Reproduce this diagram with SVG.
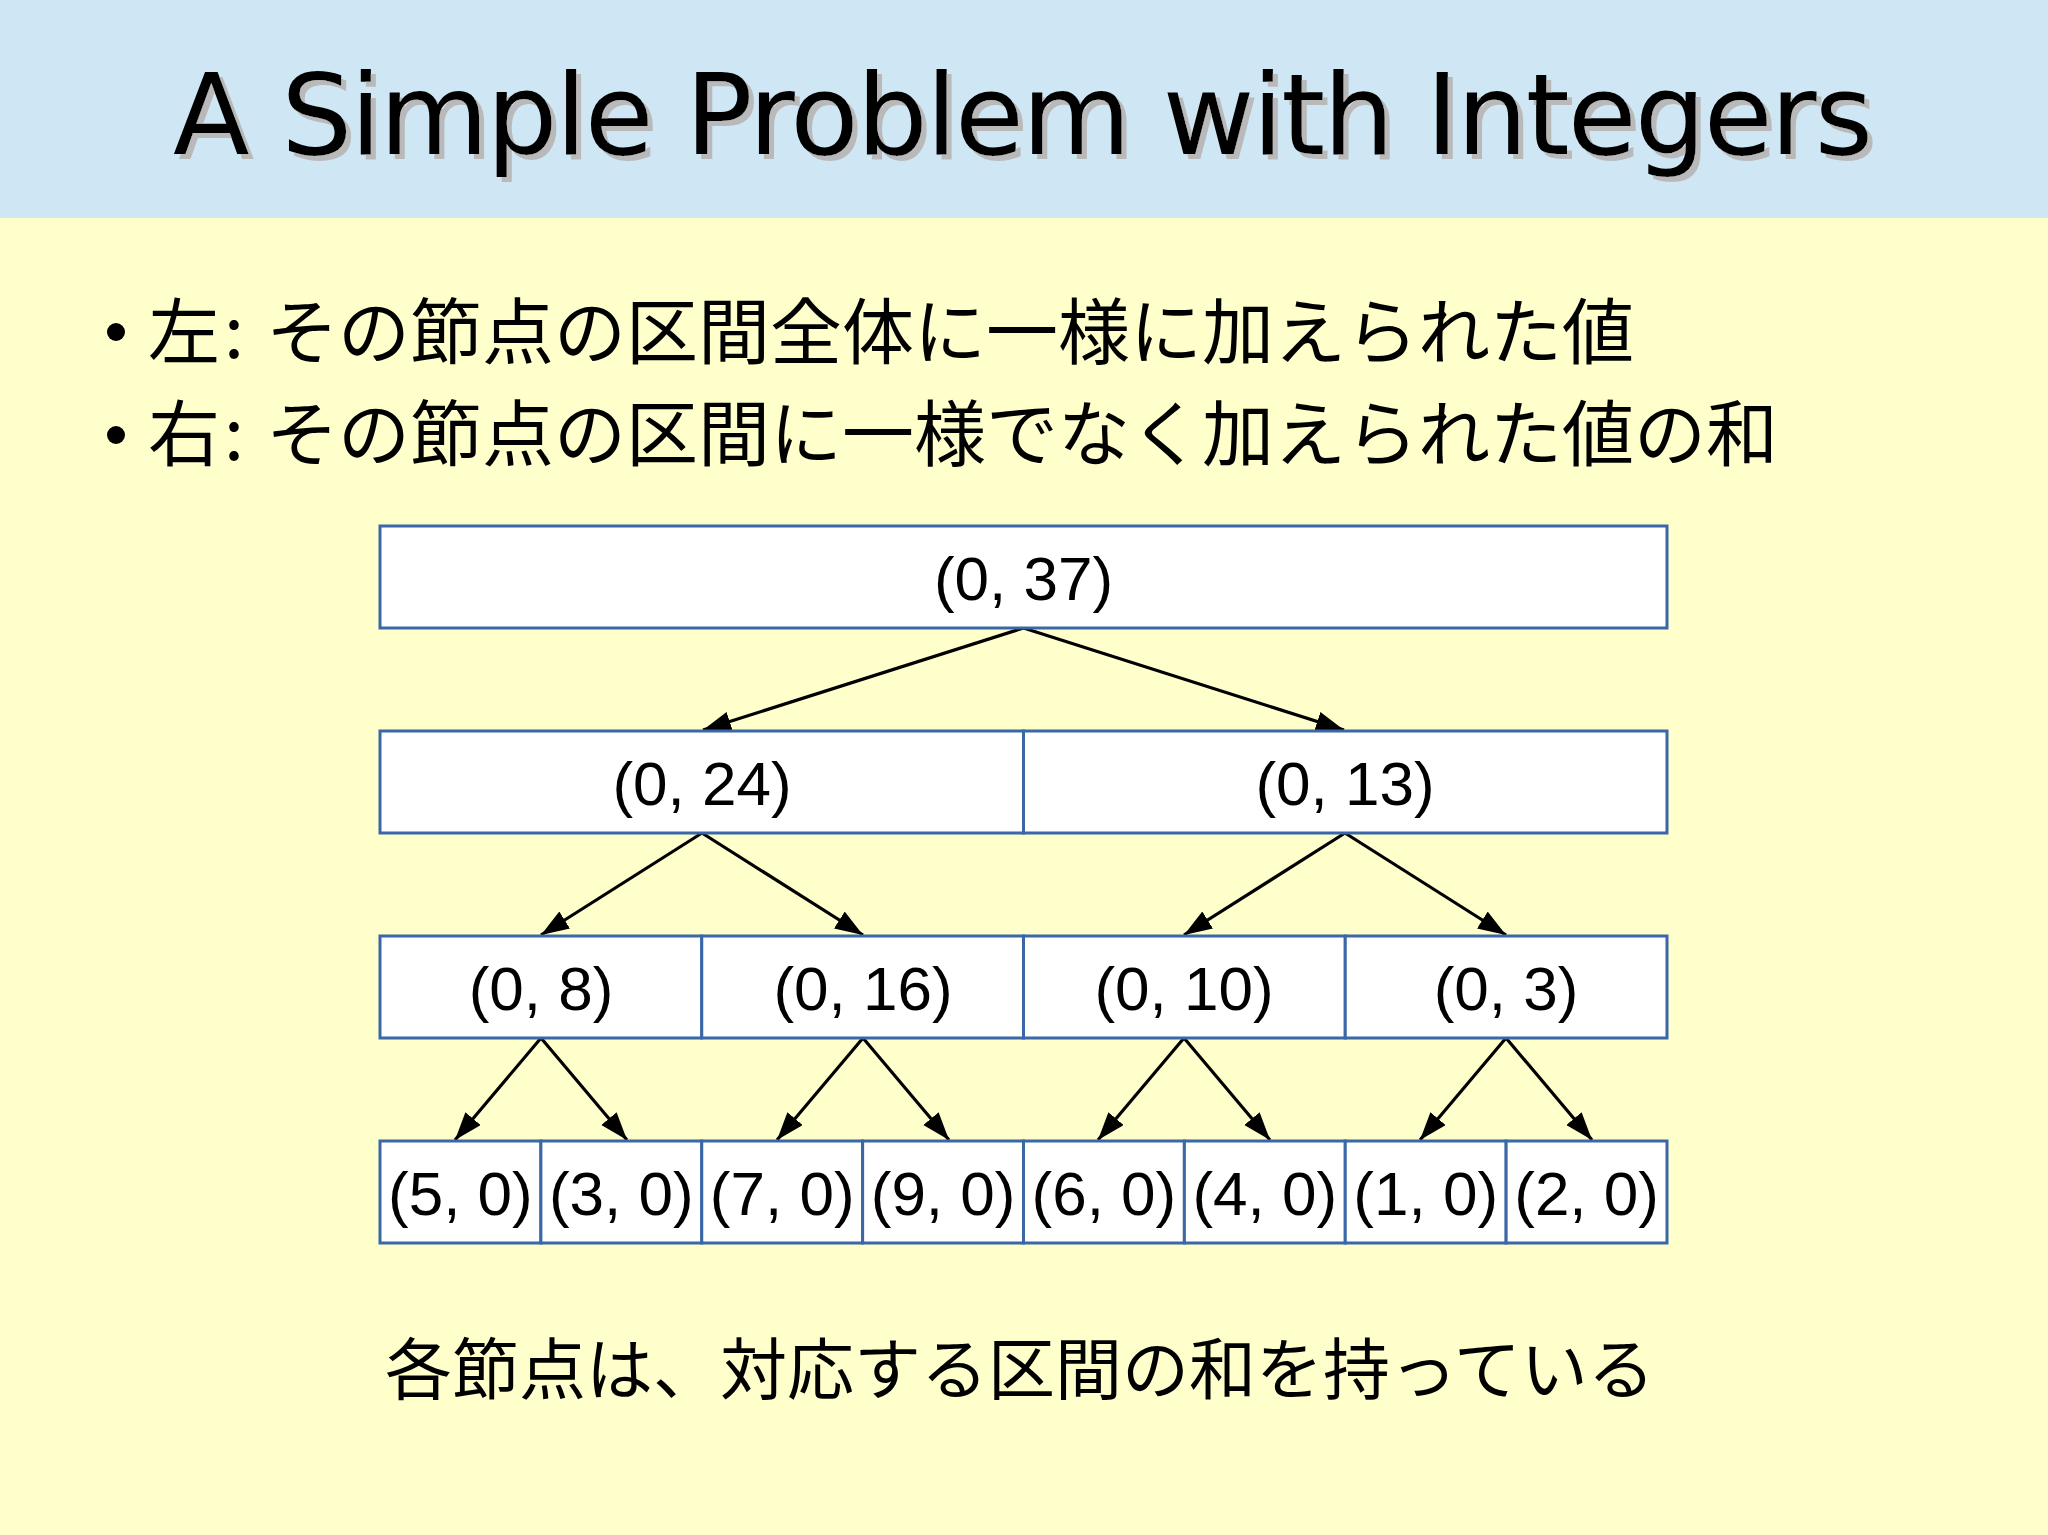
<svg xmlns="http://www.w3.org/2000/svg" width="2048" height="1535" viewBox="0 0 2048 1535">
<defs>
<style>
.box{fill:#ffffff;stroke:#3a67a8;stroke-width:3}
.lbl{font-family:"Liberation Sans",Arial,sans-serif;font-size:62px;fill:#000;text-anchor:middle}
.jp{font-family:"Noto Sans CJK JP","Noto Sans CJK SC",sans-serif;fill:#000}
.edge{stroke:#000;stroke-width:3.2;fill:none;marker-end:url(#arr)}
.title{font-family:"DejaVu Sans",sans-serif;font-size:112px}
</style>
<filter id="shadow" x="-5%" y="-20%" width="110%" height="150%">
<feDropShadow dx="5" dy="5" stdDeviation="0.6" flood-color="#b9b9b9" flood-opacity="1"/>
</filter>
<marker id="arr" markerUnits="userSpaceOnUse" markerWidth="30" markerHeight="22" refX="28" refY="10" orient="auto" viewBox="0 0 30 22">
<path d="M0,0 L28,10 L0,20 z" fill="#000"/>
</marker>
</defs>
<rect x="0" y="0" width="2048" height="1535" fill="#ffffcc"/>
<rect x="0" y="0" width="2048" height="218" fill="#cfe7f5"/>
<g id="title">
<text class="title" x="173" y="154" fill="#000" filter="url(#shadow)" textLength="1700" lengthAdjust="spacing">A Simple Problem with Integers</text>
</g>
<g id="bullets">
<circle cx="116" cy="332" r="9" fill="#000"/>
<text class="jp" font-size="72" y="358"><tspan x="148">左</tspan><tspan x="224">:</tspan><tspan x="266">その節点の区間全体に一様に加えられた値</tspan></text>
<circle cx="116" cy="435" r="9" fill="#000"/>
<text class="jp" font-size="72" y="460"><tspan x="148">右</tspan><tspan x="224">:</tspan><tspan x="266">その節点の区間に一様でなく加えられた値の和</tspan></text>
</g>
<g id="connectors">
<line class="edge" x1="1023.5" y1="628" x2="703" y2="730"/>
<line class="edge" x1="1023.5" y1="628" x2="1344" y2="730"/>
<line class="edge" x1="702" y1="833" x2="541" y2="935"/>
<line class="edge" x1="702" y1="833" x2="863" y2="935"/>
<line class="edge" x1="1345" y1="833" x2="1184" y2="935"/>
<line class="edge" x1="1345" y1="833" x2="1506" y2="935"/>
<line class="edge" x1="541" y1="1038" x2="455" y2="1140"/>
<line class="edge" x1="541" y1="1038" x2="627" y2="1140"/>
<line class="edge" x1="863" y1="1038" x2="777" y2="1140"/>
<line class="edge" x1="863" y1="1038" x2="949" y2="1140"/>
<line class="edge" x1="1184" y1="1038" x2="1098" y2="1140"/>
<line class="edge" x1="1184" y1="1038" x2="1270" y2="1140"/>
<line class="edge" x1="1506" y1="1038" x2="1420" y2="1140"/>
<line class="edge" x1="1506" y1="1038" x2="1592" y2="1140"/>
</g>
<g id="n0_37"><rect class="box" x="380" y="526" width="1287" height="102"/><text class="lbl" x="1023.5" y="600">(0, 37)</text></g>
<g id="n0_24"><rect class="box" x="380" y="731" width="643.5" height="102"/><text class="lbl" x="702" y="805">(0, 24)</text></g>
<g id="n0_13"><rect class="box" x="1023.5" y="731" width="643.5" height="102"/><text class="lbl" x="1345" y="805">(0, 13)</text></g>
<g id="n0_8"><rect class="box" x="380" y="936" width="321.75" height="102"/><text class="lbl" x="541" y="1010">(0, 8)</text></g>
<g id="n0_16"><rect class="box" x="701.75" y="936" width="321.75" height="102"/><text class="lbl" x="863" y="1010">(0, 16)</text></g>
<g id="n0_10"><rect class="box" x="1023.5" y="936" width="321.75" height="102"/><text class="lbl" x="1184" y="1010">(0, 10)</text></g>
<g id="n0_3"><rect class="box" x="1345.25" y="936" width="321.75" height="102"/><text class="lbl" x="1506" y="1010">(0, 3)</text></g>
<g id="n5_0"><rect class="box" x="380" y="1141" width="160.875" height="102"/><text class="lbl" x="460.4" y="1215">(5, 0)</text></g>
<g id="n3_0"><rect class="box" x="540.875" y="1141" width="160.875" height="102"/><text class="lbl" x="621.3" y="1215">(3, 0)</text></g>
<g id="n7_0"><rect class="box" x="701.75" y="1141" width="160.875" height="102"/><text class="lbl" x="782.2" y="1215">(7, 0)</text></g>
<g id="n9_0"><rect class="box" x="862.625" y="1141" width="160.875" height="102"/><text class="lbl" x="943.1" y="1215">(9, 0)</text></g>
<g id="n6_0"><rect class="box" x="1023.5" y="1141" width="160.875" height="102"/><text class="lbl" x="1103.9" y="1215">(6, 0)</text></g>
<g id="n4_0"><rect class="box" x="1184.375" y="1141" width="160.875" height="102"/><text class="lbl" x="1264.8" y="1215">(4, 0)</text></g>
<g id="n1_0"><rect class="box" x="1345.25" y="1141" width="160.875" height="102"/><text class="lbl" x="1425.7" y="1215">(1, 0)</text></g>
<g id="n2_0"><rect class="box" x="1506.125" y="1141" width="160.875" height="102"/><text class="lbl" x="1586.6" y="1215">(2, 0)</text></g>
<g id="caption">
<text class="jp" font-size="67" x="385" y="1394">各節点は、対応する区間の和を持っている</text>
</g>
</svg>
